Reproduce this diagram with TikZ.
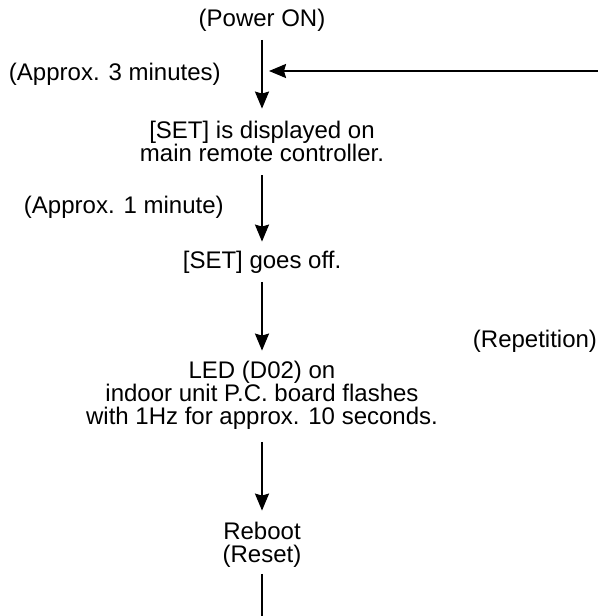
\documentclass[tikz,border=0pt]{standalone}
\usepackage{fontspec}
\setmainfont{Liberation Sans}
\usetikzlibrary{arrows.meta}
\begin{document}
\begin{tikzpicture}[x=0.5pt,y=-0.5pt,
  txt/.style={inner sep=0pt, outer sep=0pt, align=center, font=\fontsize{12}{11.5}\selectfont},
  arr/.style={line width=1pt, -{Stealth[length=8.5pt,width=7pt,inset=1pt]}},
  plain/.style={line width=1pt}]
\useasboundingbox (0,0) rectangle (598,616);
\node[txt, anchor=base] (power) at (262,26) {(Power ON)};
\node[txt, anchor=base west] (t3) at (9,80) {(Approx. 3 minutes)};
\node[txt, anchor=base] (set1) at (262,161) {[SET] is displayed on\\main remote controller.};
\node[txt, anchor=base west] (t1) at (24,213) {(Approx. 1 minute)};
\node[txt, anchor=base] (set2) at (262,268) {[SET] goes off.};
\node[txt, anchor=base east] (rep) at (597,347) {(Repetition)};
\node[txt, anchor=base] (led) at (262,424) {LED (D02) on\\indoor unit P.C. board flashes\\with 1Hz for approx. 10 seconds.};
\node[txt, anchor=base] (reboot) at (262,562) {Reboot\\(Reset)};
\coordinate (join) at (262,71);
\coordinate (loopR) at (598,71);
\coordinate (loopB) at (262,616);
\draw[arr, shorten <=4.5pt, shorten >=6pt] (power) -- (set1);
\draw[arr, shorten >=3.5pt] (loopR) -- (join);
\draw[arr, shorten <=7pt, shorten >=4.5pt] (set1) -- (set2);
\draw[arr, shorten <=4.5pt, shorten >=5pt] (set2) -- (led);
\draw[arr, shorten <=6.5pt, shorten >=5.5pt] (led) -- (reboot);
\draw[plain, shorten <=3.5pt] (reboot) -- (loopB);
\end{tikzpicture}
\end{document}
